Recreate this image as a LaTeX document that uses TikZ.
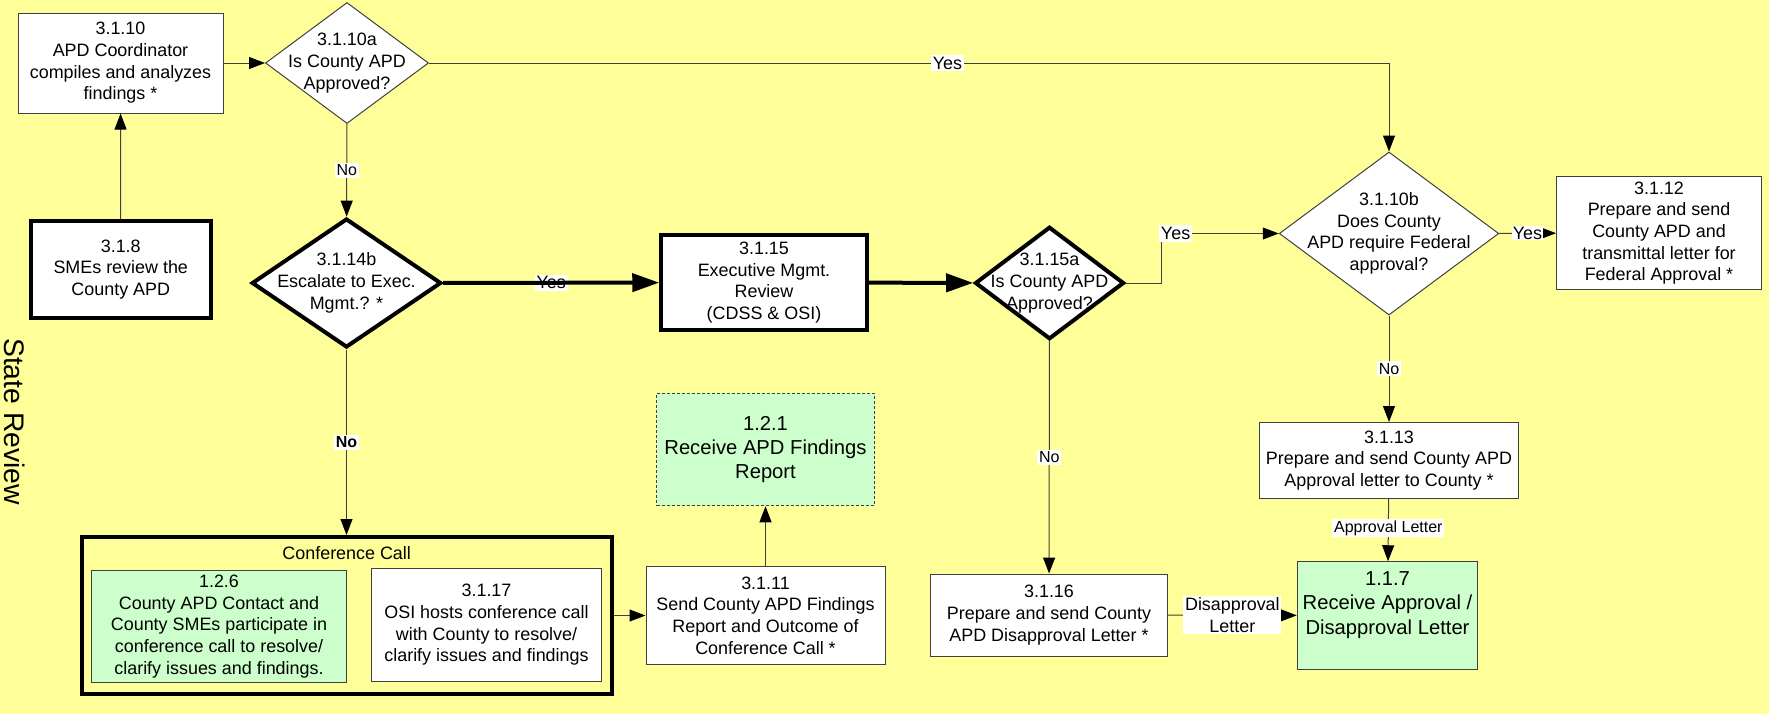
\documentclass[tikz,border=0pt]{standalone}
\usepackage{fontspec}
\setmainfont{Liberation Sans}
\usepackage{tikz}
\usetikzlibrary{calc}
\usetikzlibrary{arrows.meta}
\usetikzlibrary{shapes.geometric}
\definecolor{paper}{HTML}{FFFF99}
\definecolor{mint}{HTML}{CCFFCC}
\tikzset{>={Triangle[length=3.2mm, width=2.4mm, color=black]}}
\tikzstyle{txt} = [font=\fontsize{10.2}{12.35}\selectfont, align=center, inner sep=0pt]
\tikzstyle{bigtxt} = [font=\fontsize{11.5}{13.8}\selectfont, align=center, inner sep=0pt]
\tikzstyle{proc} = [rectangle, txt, draw=black!75, line width=0.02cm, fill=white]
\tikzstyle{heavy} = [proc, draw=black, line width=0.08cm]
\tikzstyle{dec} = [diamond, draw=black!75, line width=0.02cm, fill=white, inner sep=0pt]
\tikzstyle{heavydec} = [dec, draw=black, line width=0.08cm]
\tikzstyle{lbl} = [fill=white, inner sep=1pt, font=\fontsize{10.2}{12.35}\selectfont, align=center]
\tikzstyle{small} = [lbl, font=\fontsize{9.1}{11}\selectfont]
\tikzstyle{flow} = [->, draw=black!75, line width=0.02cm]
\tikzstyle{bigflow} = [-{Triangle[length=5.4mm, width=3.6mm]}, draw=black, line width=0.08cm]

\begin{document}
\begin{tikzpicture}
\fill [paper] (0,0) rectangle (35.38,-14.28);
\useasboundingbox (0,0) rectangle (35.38,-14.28);

% lane
\node [rotate=-90, font=\fontsize{16.1}{19}\selectfont] (lane) at (0.3,-8.43) {State Review};

% top row
\node [proc, minimum width=4.1cm, minimum height=2cm] (b3110) at (2.41,-1.26) {3.1.10\\APD Coordinator\\compiles and analyzes\\findings *};
\node [dec, minimum width=3.26cm, minimum height=2.42cm] (d3110a) at (6.94,-1.26) {};
\node [txt] (d3110aT) at (d3110a) {3.1.10a\\Is County APD\\Approved?};

% middle row
\node [heavy, minimum width=3.6cm, minimum height=1.94cm] (b318) at (2.415,-5.39) {3.1.8\\SMEs review the\\County APD};
\node [heavydec, minimum width=3.79cm, minimum height=2.58cm] (d3114b) at (6.93,-5.66) {};
\node [txt] (d3114bT) at (d3114b) {3.1.14b\\Escalate to Exec.\\Mgmt.? *};
\node [heavy, minimum width=4.11cm, minimum height=1.89cm] (b3115) at (15.28,-5.65) {3.1.15\\Executive Mgmt.\\Review\\(CDSS \& OSI)};
\node [heavydec, minimum width=2.98cm, minimum height=2.25cm] (d3115a) at (20.99,-5.66) {};
\node [txt] (d3115aT) at (d3115a) {3.1.15a\\Is County APD\\Approved?};
\node [dec, minimum width=4.39cm, minimum height=3.26cm] (d3110b) at (27.78,-4.67) {};
\node [txt] (d3110bT) at (d3110b) {3.1.10b\\Does County\\APD require Federal\\approval?};
\node [proc, minimum width=4.1cm, minimum height=2.25cm] (b3112) at (33.18,-4.66) {3.1.12\\Prepare and send\\County APD and\\transmittal letter for\\Federal Approval *};

% bottom row
\node [rectangle, draw=black, line width=0.08cm, minimum width=10.59cm, minimum height=3.14cm] (conf) at (6.944,-12.31) {};
\node [txt] (confT) at (6.934,-11.07) {Conference Call};
\node [proc, fill=mint, minimum width=5.09cm, minimum height=2.25cm] (b126) at (4.38,-12.53) {1.2.6\\County APD Contact and\\County SMEs participate in\\conference call to resolve/\\clarify issues and findings.};
\node [proc, minimum width=4.61cm, minimum height=2.27cm] (b3117) at (9.73,-12.5) {3.1.17\\OSI hosts conference call\\with County to resolve/\\clarify issues and findings};
\node [proc, minimum width=4.78cm, minimum height=1.95cm] (b3111) at (15.31,-12.31) {3.1.11\\Send County APD Findings\\Report and Outcome of\\Conference Call *};
\node [proc, bigtxt, fill=mint, dash pattern=on 0.06cm off 0.04cm, minimum width=4.36cm, minimum height=2.25cm] (b121) at (15.31,-8.99) {1.2.1\\Receive APD Findings\\Report};
\node [proc, minimum width=4.74cm, minimum height=1.64cm] (b3116) at (20.98,-12.3) {3.1.16\\Prepare and send County\\APD Disapproval Letter *};
\node [proc, minimum width=5.19cm, minimum height=1.52cm] (b3113) at (27.78,-9.21) {3.1.13\\Prepare and send County APD\\Approval letter to County *};
\node [proc, fill=mint, minimum width=3.61cm, minimum height=2.15cm] (b117) at (27.75,-12.31) {};
\node [bigtxt, anchor=north] (b117T) at ([yshift=-0.2cm]b117.north) {1.1.7\\Receive Approval /\\Disapproval Letter};

% connectors
\draw [flow] (b318) -- (b3110);
\draw [flow] (b3110) -- (d3110a);
\draw [flow] (d3110a) -| node [lbl, pos=0.27] (yes1) {Yes} (d3110b);
\draw [flow] (d3110a) -- node [small] (no1) {No} (d3114b);
\node [lbl] (yes2) at ($(d3114b.east)!0.5!(b3115.west)$) {Yes};
\draw [bigflow] (d3114b) -- (b3115);
\draw [bigflow] (b3115) -- (d3115a);
\draw [flow] (d3115a.east) -- ++(0.71,0) |- node [lbl, pos=0.56] (yes3) {Yes} (d3110b.west);
\draw [flow] (d3110b) -- node [lbl, inner sep=0.5pt] (yes4) {Yes} (b3112);
\draw [flow] (d3110b) -- node [small] (no3) {No} (b3113);
\draw [flow] (b3113) -- node [small, pos=0.47] (apl) {Approval Letter} (b117);
\draw [flow] (d3115a) -- node [small] (no2) {No} (b3116);
\draw [flow] (b3116) -- node [lbl] (dapl) {Disapproval\\Letter} (b117);
\draw [flow] (d3114b) -- node [small, font=\fontsize{9.1}{11}\selectfont\bfseries] (no4) {No} (d3114b |- conf.north);
\draw [flow] (conf) -- (b3111);
\draw [flow] (b3111) -- (b121);
\end{tikzpicture}
\end{document}
